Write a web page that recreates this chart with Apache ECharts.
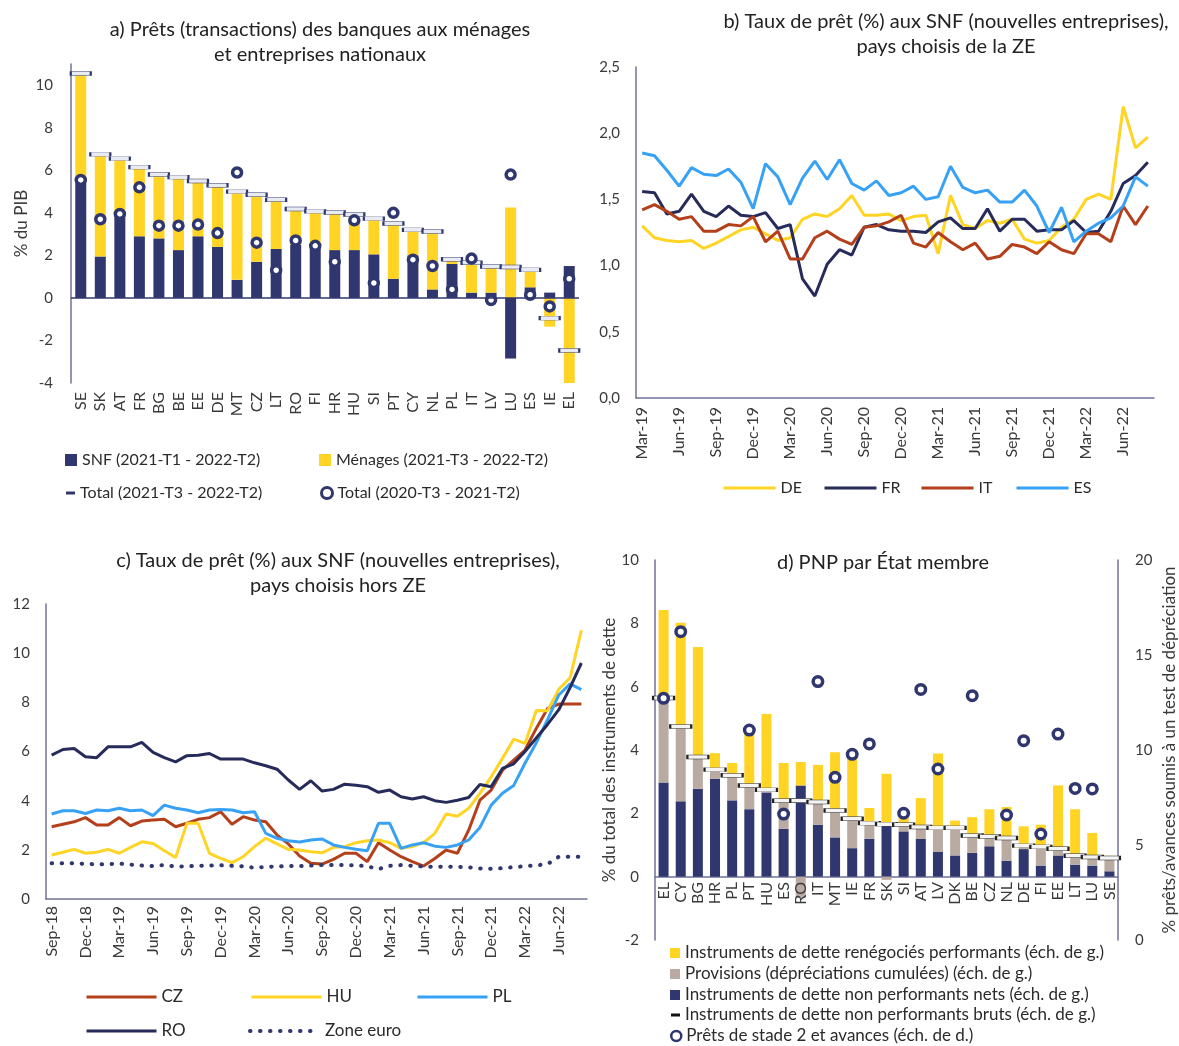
<!DOCTYPE html>
<html>
<head>
<meta charset="utf-8">
<script src="https://cdn.jsdelivr.net/npm/echarts@6/dist/echarts.min.js"></script>
<style>
  html, body { margin: 0; padding: 0; background: #fff; }
  #chart { width: 1179px; height: 1046px; }
</style>
</head>
<body>
<div id="chart"></div>
<script>
// ---- a) Prêts des banques (% du PIB)
const countriesA = ['SE','SK','AT','FR','BG','BE','EE','DE','MT','CZ','LT','RO','FI','HR','HU','SI','PT','CY','NL','PL','IT','LV','LU','ES','IE','EL'];
const snfA = [5.5, 1.95, 4.0, 2.9, 2.8, 2.25, 2.9, 2.4, 0.85, 1.7, 2.3, 2.5, 2.45, 2.25, 2.25, 2.05, 0.9, 2.0, 0.4, 1.6, 0.25, 0.25, -2.85, 0.5, 0.25, 1.5];
const menagesA = [5.0, 4.75, 2.5, 3.2, 2.95, 3.4, 2.55, 2.85, 4.1, 3.1, 2.3, 1.65, 1.6, 1.75, 1.65, 1.65, 2.6, 1.2, 2.7, 0.2, 1.35, 1.2, 4.25, 0.8, -1.35, -4.05];
const totalA = [10.55, 6.75, 6.55, 6.15, 5.8, 5.68, 5.5, 5.3, 5.0, 4.85, 4.62, 4.18, 4.07, 4.02, 3.92, 3.73, 3.5, 3.2, 3.12, 1.82, 1.65, 1.48, 1.45, 1.32, -0.95, -2.47];
const totalPrevA = [5.55, 3.7, 3.95, 5.2, 3.4, 3.4, 3.45, 3.05, 5.9, 2.6, 1.3, 2.7, 2.45, 1.7, 3.65, 0.7, 4.0, 1.8, 1.5, 0.4, 1.85, -0.1, 5.8, 0.15, -0.4, 0.9];

// ---- b) Taux de prêt, pays de la ZE
const monthsB = ['Mar-19','Apr-19','May-19','Jun-19','Jul-19','Aug-19','Sep-19','Oct-19','Nov-19','Dec-19',
  'Jan-20','Feb-20','Mar-20','Apr-20','May-20','Jun-20','Jul-20','Aug-20','Sep-20','Oct-20','Nov-20','Dec-20',
  'Jan-21','Feb-21','Mar-21','Apr-21','May-21','Jun-21','Jul-21','Aug-21','Sep-21','Oct-21','Nov-21','Dec-21',
  'Jan-22','Feb-22','Mar-22','Apr-22','May-22','Jun-22','Jul-22','Aug-22'];
const tauxDE = [1.30, 1.21, 1.19, 1.18, 1.19, 1.13, 1.17, 1.22, 1.27, 1.29, 1.24, 1.19, 1.21, 1.35, 1.39, 1.37, 1.43, 1.53, 1.38, 1.38, 1.39,
  1.34, 1.37, 1.38, 1.09, 1.53, 1.31, 1.28, 1.34, 1.32, 1.35, 1.20, 1.17, 1.19, 1.29, 1.35, 1.50, 1.54, 1.50, 2.20, 1.89, 1.97];
const tauxFR = [1.56, 1.55, 1.39, 1.41, 1.54, 1.41, 1.37, 1.45, 1.38, 1.37, 1.40, 1.28, 1.31, 0.90, 0.77, 1.01, 1.12, 1.08, 1.29, 1.31, 1.27,
  1.26, 1.26, 1.25, 1.33, 1.36, 1.28, 1.28, 1.43, 1.26, 1.35, 1.35, 1.26, 1.27, 1.27, 1.34, 1.25, 1.26, 1.41, 1.62, 1.68, 1.78];
const tauxIT = [1.42, 1.46, 1.41, 1.35, 1.37, 1.26, 1.26, 1.31, 1.30, 1.37, 1.18, 1.26, 1.05, 1.05, 1.21, 1.26, 1.20, 1.16, 1.29, 1.30, 1.33,
  1.38, 1.17, 1.14, 1.25, 1.18, 1.12, 1.17, 1.05, 1.07, 1.16, 1.14, 1.09, 1.18, 1.12, 1.09, 1.24, 1.24, 1.18, 1.45, 1.31, 1.45];
const tauxES = [1.85, 1.83, 1.72, 1.60, 1.74, 1.69, 1.68, 1.73, 1.63, 1.43, 1.77, 1.67, 1.46, 1.66, 1.79, 1.65, 1.80, 1.62, 1.57, 1.64, 1.53,
  1.55, 1.60, 1.50, 1.52, 1.75, 1.59, 1.55, 1.57, 1.48, 1.48, 1.57, 1.45, 1.25, 1.44, 1.18, 1.26, 1.32, 1.36, 1.45, 1.67, 1.60];

// ---- c) Taux de prêt, pays hors ZE
const monthsC = ['Sep-18','Oct-18','Nov-18','Dec-18',
  'Jan-19','Feb-19','Mar-19','Apr-19','May-19','Jun-19','Jul-19','Aug-19','Sep-19','Oct-19','Nov-19','Dec-19',
  'Jan-20','Feb-20','Mar-20','Apr-20','May-20','Jun-20','Jul-20','Aug-20','Sep-20','Oct-20','Nov-20','Dec-20',
  'Jan-21','Feb-21','Mar-21','Apr-21','May-21','Jun-21','Jul-21','Aug-21','Sep-21','Oct-21','Nov-21','Dec-21',
  'Jan-22','Feb-22','Mar-22','Apr-22','May-22','Jun-22','Jul-22','Aug-22'];
const tauxCZ = [2.94, 3.04, 3.14, 3.31, 3.01, 3.01, 3.31, 2.98, 3.17, 3.21, 3.24, 2.94, 3.08, 3.24, 3.31, 3.55, 3.04, 3.35, 3.21, 3.14,
  2.60, 2.24, 1.75, 1.45, 1.42, 1.61, 1.86, 1.86, 1.52, 2.29, 1.99, 1.72, 1.52, 1.34, 1.65, 1.99, 1.86, 2.80, 4.02, 4.43,
  5.24, 5.65, 6.06, 6.94, 7.75, 7.93, 7.93, 7.93];
const tauxHU = [1.79, 1.90, 2.02, 1.86, 1.90, 2.02, 1.86, 2.10, 2.33, 2.26, 1.96, 1.69, 3.08, 3.08, 1.86, 1.65, 1.48, 1.72, 2.13, 2.47,
  2.24, 2.02, 1.99, 1.92, 1.88, 2.10, 2.13, 2.29, 2.37, 2.40, 2.29, 2.06, 2.13, 2.29, 2.67, 3.46, 3.37, 3.69, 4.30, 4.97,
  5.72, 6.50, 6.33, 7.67, 7.66, 8.53, 9.00, 10.93];
const tauxPL = [3.46, 3.59, 3.59, 3.48, 3.62, 3.59, 3.69, 3.59, 3.62, 3.39, 3.82, 3.69, 3.62, 3.51, 3.62, 3.64, 3.62, 3.51, 3.55, 2.67,
  2.47, 2.37, 2.32, 2.40, 2.44, 2.20, 2.10, 2.02, 1.96, 3.08, 3.08, 2.06, 2.20, 2.29, 2.15, 2.10, 2.20, 2.40, 2.91, 3.82,
  4.30, 4.62, 5.52, 6.35, 7.30, 8.30, 8.75, 8.52];
const tauxRO = [5.85, 6.08, 6.12, 5.79, 5.75, 6.19, 6.19, 6.19, 6.37, 5.96, 5.75, 5.58, 5.83, 5.85, 5.92, 5.69, 5.69, 5.69, 5.54, 5.42,
  5.28, 4.84, 4.46, 4.81, 4.39, 4.46, 4.67, 4.63, 4.57, 4.34, 4.43, 4.16, 4.07, 4.16, 4.00, 3.93, 4.02, 4.13, 4.66, 4.57,
  5.31, 5.50, 6.00, 6.55, 7.10, 7.70, 8.60, 9.60];
const tauxZE = [1.45, 1.45, 1.45, 1.43, 1.41, 1.42, 1.44, 1.40, 1.36, 1.34, 1.38, 1.32, 1.33, 1.35, 1.36, 1.37, 1.35, 1.33, 1.27, 1.31,
  1.32, 1.34, 1.34, 1.36, 1.38, 1.38, 1.38, 1.37, 1.33, 1.22, 1.35, 1.38, 1.35, 1.32, 1.31, 1.31, 1.31, 1.29, 1.24, 1.23,
  1.25, 1.30, 1.33, 1.37, 1.42, 1.72, 1.72, 1.72];

// ---- d) PNP par État membre
const countriesD = ['EL','CY','BG','HR','PL','PT','HU','ES','RO','IT','MT','IE','FR','SK','SI','AT','LV','DK','BE','CZ','NL','DE','FI','EE','LT','LU','SE'];
const pnpNets = [2.97, 2.38, 2.78, 3.09, 2.41, 2.13, 2.66, 1.51, 2.88, 1.64, 1.24, 0.90, 1.20, 1.62, 1.43, 1.19, 0.78, 0.67, 0.75, 0.96, 0.50, 0.87, 0.35, 0.67, 0.38, 0.35, 0.17];
const provisionsD = [2.67, 2.36, 1.00, 0.29, 0.79, 0.75, 0.08, 0.89, -0.67, 0.72, 0.85, 0.93, 0.49, -0.10, 0.18, 0.38, 0.76, 0.87, 0.55, 0.31, 0.72, 0.11, 0.59, 0.21, 0.28, 0.27, 0.42];
const renegocies = [2.78, 3.28, 3.47, 0.52, 0.39, 1.65, 2.40, 1.19, 0.74, 1.17, 1.84, 1.96, 0.48, 1.63, 0.27, 0.91, 2.35, 0.23, 0.58, 0.86, 0.98, 0.61, 0.70, 2.00, 1.47, 0.76, 0.07];
const pnpBruts = [5.64, 4.74, 3.78, 3.38, 3.20, 2.88, 2.74, 2.40, 2.40, 2.36, 2.09, 1.83, 1.69, 1.66, 1.64, 1.57, 1.54, 1.54, 1.30, 1.27, 1.22, 0.98, 0.94, 0.88, 0.66, 0.62, 0.59];
const stade2 = [12.72, 16.23, null, null, null, 11.05, null, 6.63, null, 13.6, 8.56, 9.77, 10.32, null, 6.67, 13.19, 9.0, null, 12.86, null, 6.58, 10.49, 5.58, 10.84, 7.98, 7.95, null];

const NAVY = '#30376e', NAVYLINE = '#272b5a', YELLOW = '#ffd424', BLUE = '#37a2f5', RED = '#b3401b', BEIGE = '#b9aba2';
const AXIS = '#6f7299', TXT = '#3a3a3a', FONT = 'Lato';

const chart = echarts.init(document.getElementById('chart'));

function legendItem(name, left, top, w, h, size, icon, style) {
  const item = { name: name };
  if (icon) item.icon = icon;
  if (style) item.itemStyle = style;
  const lg = {
    left: left, top: top, padding: 0, itemWidth: w, itemHeight: h, selectedMode: false,
    data: [item],
    textStyle: { fontFamily: FONT, fontSize: size, color: '#2b2b2b', lineHeight: 18 }
  };
  // line series: keep the stroke, hide the symbol in the middle
  if (!icon) {
    lg.itemStyle = { opacity: 0 };
    lg.lineStyle = { width: name === 'Zone euro' ? 4 : 3 };
  }
  return lg;
}

function titleText(x, y, text) {
  return {
    type: 'text', x: x, y: y, silent: true,
    style: { text: text, align: 'center', verticalAlign: 'top', fill: '#222', font: '20px ' + FONT, lineHeight: 25 }
  };
}

const catLabel = { color: TXT, fontFamily: FONT, fontSize: 16 };
const valLabel = { color: TXT, fontFamily: FONT, fontSize: 15 };
const nameStyle = { color: TXT, fontFamily: FONT, fontSize: 17 };
const axisLine = { show: true, lineStyle: { color: AXIS, width: 1.5 } };
const comma = v => v.toFixed(1).replace('.', ',');

function line(name, xi, yi, data, color) {
  return { name: name, type: 'line', xAxisIndex: xi, yAxisIndex: yi, data: data, symbol: 'none',
    lineStyle: { color: color, width: 3 }, itemStyle: { color: color } };
}

const option = {
  animation: false,
  backgroundColor: '#fff',
  textStyle: { fontFamily: FONT },
  graphic: [
    titleText(320, 17, 'a) Prêts (transactions) des banques aux ménages\net entreprises nationaux'),
    titleText(946, 9, 'b) Taux de prêt (%) aux SNF (nouvelles entreprises),\npays choisis de la ZE'),
    titleText(338, 548, 'c) Taux de prêt (%) aux SNF (nouvelles entreprises),\npays choisis hors ZE'),
    titleText(883, 550, 'd) PNP par État membre')
  ],
  grid: [
    { left: 71, top: 64, width: 508, height: 319, outerBoundsMode: 'none' },
    { left: 636, top: 67, width: 518, height: 331, outerBoundsMode: 'none' },
    { left: 46, top: 604, width: 541, height: 295, outerBoundsMode: 'none' },
    { left: 655, top: 560, width: 463, height: 380, outerBoundsMode: 'none' },
    // labels of panel d, hung under the zero line
    { left: 655, top: 560, width: 463, height: 317, outerBoundsMode: 'none' }
  ],
  legend: [
    legendItem('SNF (2021-T1 - 2022-T2)', 65, 451, 12, 12, 16, 'rect'),
    legendItem('Ménages (2021-T3 - 2022-T2)', 319, 451, 12, 12, 16, 'rect'),
    legendItem('Total (2021-T3 - 2022-T2)', 66, 484, 9, 3, 16, 'rect', { color: NAVY, borderWidth: 0 }),
    legendItem('Total (2020-T3 - 2021-T2)', 320, 484, 11, 11, 16, 'circle', { color: '#fff', borderColor: NAVY, borderWidth: 3 }),

    legendItem('DE', 722, 479, 52, 14, 16),
    legendItem('FR', 823, 479, 52, 14, 16),
    legendItem('IT', 920, 479, 52, 14, 16),
    legendItem('ES', 1015, 479, 52, 14, 16),

    legendItem('CZ', 85, 988, 70, 14, 17),
    legendItem('HU', 250, 988, 70, 14, 17),
    legendItem('PL', 416, 988, 70, 14, 17),
    legendItem('RO', 85, 1022, 70, 14, 17),
    legendItem('Zone euro', 248, 1022, 70, 14, 17),

    legendItem('Instruments de dette renégociés performants (éch. de g.)', 670, 944, 10, 10, 17, 'rect'),
    legendItem('Provisions (dépréciations cumulées) (éch. de g.)', 670, 965, 10, 10, 17, 'rect'),
    legendItem('Instruments de dette non performants nets (éch. de g.)', 670, 986, 10, 10, 17, 'rect'),
    legendItem('Instruments de dette non performants bruts (éch. de g.)', 671, 1006, 9, 3, 17, 'rect', { color: '#111', borderWidth: 0 }),
    legendItem('Prêts de stade 2 et avances (éch. de d.)', 670, 1027, 10, 10, 17, 'circle', { color: '#fff', borderColor: NAVY, borderWidth: 2.5 })
  ],
  xAxis: [
    { gridIndex: 0, type: 'category', data: countriesA, position: 'bottom',
      axisLine: { show: false, onZero: false }, axisTick: { show: false },
      axisLabel: Object.assign({ rotate: 90, interval: 0, margin: 9 }, catLabel) },
    { gridIndex: 1, type: 'category', data: monthsB, axisLine: axisLine, axisTick: { show: false },
      axisLabel: Object.assign({ rotate: 90, interval: 2, margin: 9 }, catLabel) },
    { gridIndex: 2, type: 'category', data: monthsC, axisLine: axisLine, axisTick: { show: false },
      axisLabel: Object.assign({ rotate: 90, interval: 2, margin: 7 }, catLabel) },
    { gridIndex: 3, type: 'category', data: countriesD, axisLine: { show: true, onZero: true, lineStyle: { color: AXIS, width: 1.5 } },
      axisTick: { show: false }, axisLabel: { show: false } },
    { gridIndex: 4, type: 'category', data: countriesD, z: 10, axisLine: { show: false, onZero: false }, axisTick: { show: false },
      axisLabel: Object.assign({ rotate: 90, interval: 0, margin: 5 }, catLabel) }
  ],
  yAxis: [
    { gridIndex: 0, type: 'value', min: -4, max: 11, interval: 2, axisLine: axisLine, splitLine: { show: false },
      axisLabel: Object.assign({ margin: 18, showMaxLabel: false }, valLabel),
      name: '% du PIB', nameLocation: 'middle', nameGap: 41, nameTextStyle: nameStyle },
    { gridIndex: 1, type: 'value', min: 0, max: 2.5, interval: 0.5, axisLine: axisLine, splitLine: { show: false },
      axisLabel: Object.assign({ margin: 16, formatter: comma }, valLabel) },
    { gridIndex: 2, type: 'value', min: 0, max: 12, interval: 2, axisLine: axisLine, splitLine: { show: false },
      axisLabel: Object.assign({ margin: 16 }, valLabel) },
    { gridIndex: 3, type: 'value', min: -2, max: 10, interval: 2, axisLine: axisLine, splitLine: { show: false },
      axisLabel: Object.assign({ margin: 16 }, valLabel),
      name: '% du total des instruments de dette', nameLocation: 'middle', nameGap: 35, nameTextStyle: nameStyle },
    { gridIndex: 3, type: 'value', position: 'right', min: 0, max: 20, interval: 5, axisLine: axisLine, splitLine: { show: false },
      axisLabel: Object.assign({ margin: 17 }, valLabel),
      name: '% prêts/avances soumis à un test de dépréciation', nameLocation: 'middle', nameGap: 43, nameRotate: 90,
      nameTextStyle: nameStyle },
    { gridIndex: 4, type: 'value', min: 0, max: 10, show: false }
  ],
  series: [
    // a
    { name: 'SNF (2021-T1 - 2022-T2)', type: 'bar', xAxisIndex: 0, yAxisIndex: 0, stack: 'a', barWidth: 11,
      data: snfA, itemStyle: { color: NAVY },
      markLine: { silent: true, symbol: 'none', label: { show: false }, lineStyle: { color: NAVY, type: 'solid', width: 1.5 },
        data: [{ yAxis: 0 }] } },
    { name: 'Ménages (2021-T3 - 2022-T2)', type: 'bar', xAxisIndex: 0, yAxisIndex: 0, stack: 'a', barWidth: 11,
      data: menagesA, itemStyle: { color: YELLOW } },
    { name: 'Total (2021-T3 - 2022-T2)', type: 'scatter', xAxisIndex: 0, yAxisIndex: 0, z: 3,
      symbol: 'rect', symbolSize: [20, 4], data: totalA,
      itemStyle: { color: '#e9ebf3', borderColor: NAVY, borderWidth: 1, opacity: 1 } },
    { name: 'Total (2020-T3 - 2021-T2)', type: 'scatter', xAxisIndex: 0, yAxisIndex: 0, z: 4,
      symbol: 'circle', symbolSize: 9, data: totalPrevA,
      itemStyle: { color: '#fff', borderColor: NAVY, borderWidth: 3.5, opacity: 1 } },
    // b
    line('DE', 1, 1, tauxDE, YELLOW),
    line('FR', 1, 1, tauxFR, NAVYLINE),
    line('IT', 1, 1, tauxIT, RED),
    line('ES', 1, 1, tauxES, BLUE),
    // c
    line('CZ', 2, 2, tauxCZ, RED),
    line('HU', 2, 2, tauxHU, YELLOW),
    line('PL', 2, 2, tauxPL, BLUE),
    line('RO', 2, 2, tauxRO, NAVYLINE),
    { name: 'Zone euro', type: 'line', xAxisIndex: 2, yAxisIndex: 2, data: tauxZE, symbol: 'none',
      lineStyle: { color: NAVY, width: 4, type: [0.5, 9.5], cap: 'round' }, itemStyle: { color: NAVY } },
    // d
    { name: 'Instruments de dette non performants nets (éch. de g.)', type: 'bar', xAxisIndex: 3, yAxisIndex: 3,
      stack: 'd', barWidth: 10, data: pnpNets, itemStyle: { color: NAVY } },
    { name: 'Provisions (dépréciations cumulées) (éch. de g.)', type: 'bar', xAxisIndex: 3, yAxisIndex: 3,
      stack: 'd', barWidth: 10, data: provisionsD, itemStyle: { color: BEIGE } },
    { name: 'Instruments de dette renégociés performants (éch. de g.)', type: 'bar', xAxisIndex: 3, yAxisIndex: 3,
      stack: 'd', barWidth: 10, data: renegocies, itemStyle: { color: YELLOW } },
    { name: 'Instruments de dette non performants bruts (éch. de g.)', type: 'scatter', xAxisIndex: 3, yAxisIndex: 3, z: 3,
      symbol: 'rect', symbolSize: [21, 4], data: pnpBruts,
      itemStyle: { color: '#f4f4f4', borderColor: '#222', borderWidth: 1, opacity: 1 } },
    { name: 'Prêts de stade 2 et avances (éch. de d.)', type: 'scatter', xAxisIndex: 3, yAxisIndex: 4, z: 4,
      symbol: 'circle', symbolSize: 9.5, data: stade2,
      itemStyle: { color: '#fff', borderColor: NAVY, borderWidth: 3.5, opacity: 1 } }
  ]
};

chart.setOption(option);
</script>
</body>
</html>
